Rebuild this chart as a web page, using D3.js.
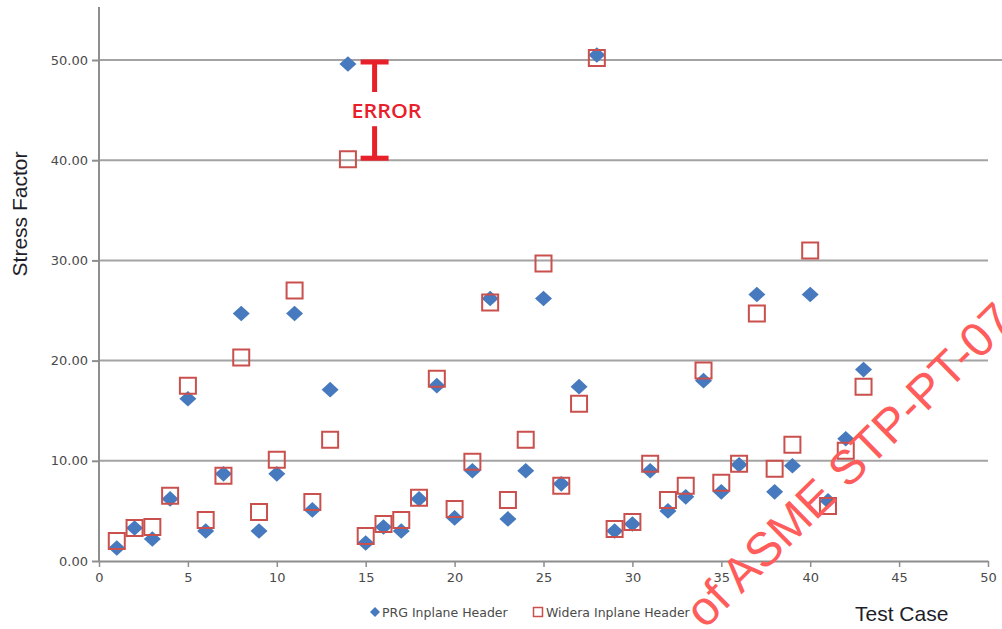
<!DOCTYPE html>
<html>
<head>
<meta charset="utf-8">
<script src="https://cdn.jsdelivr.net/npm/d3@7"></script>
<style>
  html, body { margin: 0; padding: 0; background: #ffffff; }
  svg { display: block; }
</style>
</head>
<body>
<svg id="chart" width="1002" height="629"></svg>
<script>
// Test cases 1..43
const testCases = d3.range(1, 44);

// PRG in-plane header stress factors
const prgInplane = [
  1.3, 3.3, 2.2, 6.2, 16.2, 3.0, 8.7, 24.7, 3.0, 8.7,
  24.7, 5.1, 17.1, 49.6, 1.8, 3.4, 3.0, 6.2, 17.5, 4.3,
  9.0, 26.2, 4.2, 9.0, 26.2, 7.7, 17.4, 50.5, 3.0, 3.7,
  9.0, 5.0, 6.4, 18.0, 6.9, 9.6, 26.6, 6.9, 9.5, 26.6,
  6.0, 12.2, 19.1
];

// Widera in-plane header stress factors
const wideraInplane = [
  2.0, 3.3, 3.4, 6.5, 17.5, 4.1, 8.5, 20.3, 4.9, 10.1,
  27.0, 5.9, 12.1, 40.1, 2.5, 3.7, 4.1, 6.3, 18.2, 5.2,
  9.9, 25.8, 6.1, 12.1, 29.7, 7.5, 15.7, 50.2, 3.2, 3.9,
  9.7, 6.1, 7.5, 19.0, 7.8, 9.7, 24.7, 9.2, 11.6, 31.0,
  5.5, 11.0, 17.4
];

const xTicks = [0, 5, 10, 15, 20, 25, 30, 35, 40, 45, 50];
const yTicks = [0, 10, 20, 30, 40, 50];
const seriesNames = ["PRG Inplane Header", "Widera Inplane Header"];
const errorCase = 14;

const svg = d3.select("#chart");

const x = d3.scaleLinear().domain([0, 50]).range([99, 988]);
const y = d3.scaleLinear().domain([0, 50]).range([561, 60]);

const gridColor = "#a3a3a3";
const axisColor = "#8e8e8e";
const labelColor = "#4a4a4a";
const blue = "#4679bd";
const red = "#c9504d";

// Horizontal gridlines (the top one runs to the right edge)
svg.append("g").selectAll("line")
  .data(yTicks.filter(d => d > 0))
  .join("line")
  .attr("x1", x(0))
  .attr("x2", d => d === 50 ? 1002 : x(50))
  .attr("y1", d => y(d))
  .attr("y2", d => y(d))
  .attr("stroke", gridColor)
  .attr("stroke-width", 2);

// Y axis
const yAxis = d3.axisLeft(y)
  .tickValues(yTicks)
  .tickFormat(d3.format(".2f"))
  .tickSize(7)
  .tickSizeOuter(0)
  .tickPadding(4);

const gy = svg.append("g")
  .attr("transform", `translate(${x(0)},0)`)
  .call(yAxis);
gy.select(".domain").remove();
gy.selectAll(".tick line").attr("stroke", axisColor).attr("stroke-width", 2);
gy.selectAll(".tick text")
  .attr("fill", labelColor)
  .style("font-family", "'DejaVu Sans', sans-serif")
  .style("font-size", "13px");

svg.append("line")
  .attr("x1", x(0)).attr("x2", x(0))
  .attr("y1", y(0)).attr("y2", y(55.3))
  .attr("stroke", axisColor)
  .attr("stroke-width", 2);

// X axis
const xAxis = d3.axisBottom(x)
  .tickValues(xTicks)
  .tickFormat(d3.format("d"))
  .tickSize(6)
  .tickSizeOuter(0)
  .tickPadding(6);

const gx = svg.append("g")
  .attr("transform", `translate(0,${y(0)})`)
  .call(xAxis);
gx.select(".domain").attr("stroke", axisColor).attr("stroke-width", 2);
gx.selectAll(".tick line").attr("stroke", axisColor).attr("stroke-width", 1.5);
gx.selectAll(".tick text")
  .attr("fill", labelColor)
  .style("font-family", "'DejaVu Sans', sans-serif")
  .style("font-size", "13px");

// Series markers
const diamond = (hw, hh) => `M0,${-hh}L${hw},0L0,${hh}L${-hw},0Z`;
const square = s => `M${-s/2},${-s/2}h${s}v${s}h${-s}Z`;

svg.append("g").selectAll("path")
  .data(testCases.map((c, i) => [c, prgInplane[i]]))
  .join("path")
  .attr("transform", d => `translate(${x(d[0])},${y(d[1])})`)
  .attr("d", diamond(8.5, 7.8))
  .attr("fill", blue);

svg.append("g").selectAll("path")
  .data(testCases.map((c, i) => [c, wideraInplane[i]]))
  .join("path")
  .attr("transform", d => `translate(${x(d[0])},${y(d[1])})`)
  .attr("d", square(16))
  .attr("fill", "none")
  .attr("stroke", red)
  .attr("stroke-width", 2);

// ERROR span between the two results for the flagged case
const errIdx = testCases.indexOf(errorCase);
const errTop = y(prgInplane[errIdx]) - 2;
const errBot = y(wideraInplane[errIdx]) - 1;
const errX = x(errorCase + 1.5);
const errRed = "#e8202a";
const eg = svg.append("g").attr("stroke", errRed).attr("stroke-width", 5);
eg.append("line").attr("x1", errX - 14).attr("x2", errX + 14).attr("y1", errTop).attr("y2", errTop);
eg.append("line").attr("x1", errX).attr("x2", errX).attr("y1", errTop).attr("y2", errTop + 30);
eg.append("line").attr("x1", errX).attr("x2", errX).attr("y1", errBot - 32).attr("y2", errBot);
eg.append("line").attr("x1", errX - 14).attr("x2", errX + 14).attr("y1", errBot).attr("y2", errBot);

svg.append("text")
  .attr("x", errX + 12)
  .attr("y", (errTop + errBot) / 2 + 8)
  .attr("text-anchor", "middle")
  .attr("fill", errRed)
  .attr("textLength", 70)
  .attr("lengthAdjust", "spacingAndGlyphs")
  .style("font-family", "'Open Sans', 'Liberation Sans', Arial, sans-serif")
  .style("font-weight", "600")
  .style("font-size", "20px")
  .text("ERROR");

// Axis titles
svg.append("text")
  .attr("transform", "translate(27,214) rotate(-90)")
  .attr("text-anchor", "middle")
  .attr("fill", "#1e1e2a")
  .style("font-family", "'Liberation Sans', Arial, sans-serif")
  .style("font-size", "21px")
  .text("Stress Factor");

svg.append("text")
  .attr("x", 855)
  .attr("y", 621)
  .attr("fill", "#1e1e2a")
  .style("font-family", "'Liberation Sans', Arial, sans-serif")
  .style("font-size", "21px")
  .text("Test Case");

// Legend
const lg = svg.append("g")
  .style("font-family", "'DejaVu Sans', sans-serif")
  .style("font-size", "12.5px");
lg.append("path")
  .attr("transform", "translate(375,612)")
  .attr("d", diamond(5, 5))
  .attr("fill", blue);
lg.append("text")
  .attr("x", 382).attr("y", 616.5)
  .attr("fill", labelColor)
  .text(seriesNames[0]);
lg.append("path")
  .attr("transform", "translate(538,612)")
  .attr("d", square(9))
  .attr("fill", "none")
  .attr("stroke", red)
  .attr("stroke-width", 1.5);
lg.append("text")
  .attr("x", 546).attr("y", 616.5)
  .attr("fill", labelColor)
  .text(seriesNames[1]);

// Diagonal watermark
svg.append("text")
  .attr("transform", "translate(705,630) rotate(-44.5)")
  .attr("fill", "#ff5c5c")
  .style("font-family", "'Liberation Sans', Arial, sans-serif")
  .style("font-size", "48px")
  .text("of ASME STP-PT-07");
</script>
</body>
</html>
